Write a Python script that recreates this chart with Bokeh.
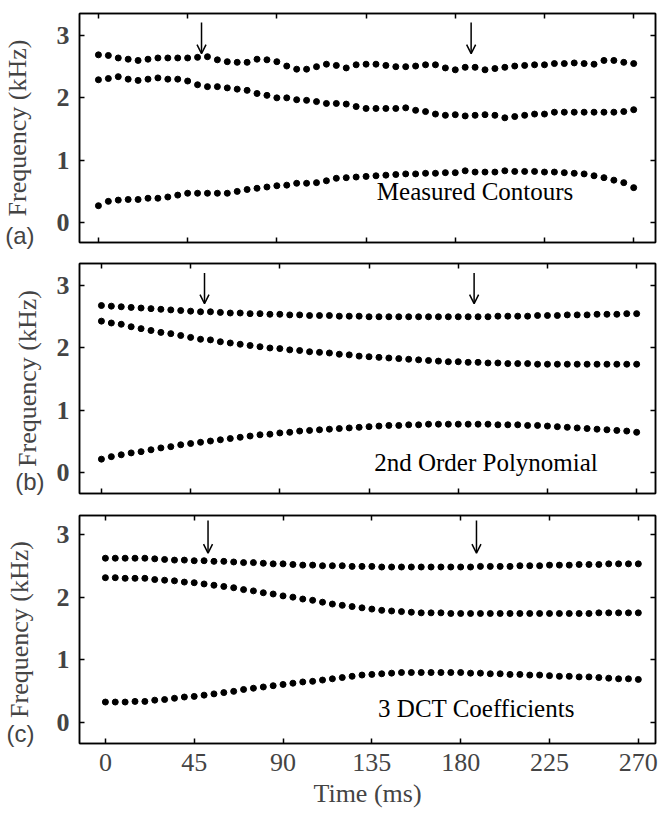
from bokeh.plotting import figure
from bokeh.layouts import column
from bokeh.models import (ColumnDataSource, LinearAxis, FixedTicker, Range1d,
                          Label, Arrow, OpenHead)
from bokeh.embed import file_html
from bokeh.resources import INLINE

# ---------------- data ----------------
time_ms = list(range(0, 271, 5))
x_ticks = [0, 45, 90, 135, 180, 225, 270]
y_ticks = [0, 1, 2, 3]

# (a) Measured contours
a_f3 = [2.69, 2.68, 2.64, 2.62, 2.60, 2.62, 2.64, 2.64, 2.64, 2.64, 2.65, 2.66, 2.61, 2.58, 2.57, 2.57, 2.62,
        2.61, 2.58, 2.51, 2.46, 2.46, 2.50, 2.54, 2.52, 2.48, 2.53, 2.54, 2.54, 2.52, 2.50, 2.50, 2.51, 2.53,
        2.53, 2.48, 2.45, 2.49, 2.49, 2.45, 2.47, 2.49, 2.51, 2.52, 2.53, 2.53, 2.55, 2.55, 2.56, 2.55, 2.54,
        2.60, 2.60, 2.57, 2.55]
a_f2 = [2.29, 2.31, 2.34, 2.30, 2.28, 2.30, 2.32, 2.30, 2.30, 2.27, 2.21, 2.18, 2.18, 2.16, 2.14, 2.12, 2.07,
        2.04, 2.00, 2.00, 1.97, 1.96, 1.94, 1.91, 1.91, 1.90, 1.86, 1.83, 1.83, 1.83, 1.83, 1.84, 1.80, 1.78,
        1.74, 1.72, 1.73, 1.71, 1.72, 1.73, 1.72, 1.68, 1.70, 1.72, 1.74, 1.74, 1.77, 1.77, 1.77, 1.77, 1.77,
        1.77, 1.77, 1.78, 1.81]
a_f1 = [0.27, 0.34, 0.36, 0.37, 0.37, 0.39, 0.39, 0.41, 0.44, 0.47, 0.47, 0.47, 0.47, 0.47, 0.50, 0.53, 0.55,
        0.57, 0.59, 0.60, 0.63, 0.63, 0.64, 0.67, 0.71, 0.72, 0.73, 0.74, 0.75, 0.76, 0.77, 0.78, 0.78, 0.79,
        0.79, 0.80, 0.80, 0.83, 0.81, 0.81, 0.81, 0.83, 0.82, 0.82, 0.82, 0.81, 0.81, 0.80, 0.79, 0.78, 0.75,
        0.72, 0.68, 0.64, 0.56]

# (b) 2nd order polynomial
b_f3 = [2.68, 2.67, 2.66, 2.65, 2.64, 2.63, 2.62, 2.61, 2.60, 2.59, 2.58, 2.58, 2.57, 2.56, 2.56,
        2.55, 2.55, 2.54, 2.54, 2.53, 2.53, 2.52, 2.52, 2.52, 2.51, 2.51, 2.51, 2.50, 2.50, 2.50,
        2.50, 2.50, 2.50, 2.50, 2.50, 2.50, 2.50, 2.50, 2.50, 2.50, 2.51, 2.51, 2.51, 2.51, 2.52,
        2.52, 2.52, 2.53, 2.53, 2.53, 2.54, 2.54, 2.54, 2.55, 2.55]
b_f2 = [2.43, 2.40, 2.38, 2.34, 2.31, 2.28, 2.25, 2.23, 2.20, 2.17, 2.14, 2.13, 2.10, 2.08, 2.06,
        2.04, 2.02, 2.00, 1.99, 1.97, 1.96, 1.94, 1.93, 1.92, 1.90, 1.89, 1.87, 1.86, 1.85, 1.84,
        1.83, 1.82, 1.81, 1.80, 1.79, 1.78, 1.78, 1.77, 1.77, 1.76, 1.76, 1.75, 1.75, 1.75, 1.74,
        1.74, 1.74, 1.74, 1.74, 1.74, 1.74, 1.74, 1.74, 1.74, 1.74]
b_f1 = [0.22, 0.26, 0.29, 0.32, 0.34, 0.37, 0.40, 0.42, 0.45, 0.47, 0.49, 0.51, 0.53, 0.55, 0.57,
        0.59, 0.61, 0.62, 0.64, 0.65, 0.67, 0.68, 0.69, 0.70, 0.71, 0.72, 0.73, 0.74, 0.75, 0.76,
        0.76, 0.77, 0.77, 0.78, 0.78, 0.78, 0.78, 0.78, 0.78, 0.78, 0.77, 0.77, 0.77, 0.76, 0.76,
        0.75, 0.74, 0.73, 0.72, 0.71, 0.70, 0.69, 0.68, 0.67, 0.65]

# (c) 3 DCT coefficients
c_f3 = [2.62, 2.62, 2.62, 2.62, 2.62, 2.61, 2.60, 2.59, 2.59, 2.58, 2.58, 2.57, 2.57, 2.56, 2.55,
        2.55, 2.54, 2.53, 2.53, 2.52, 2.51, 2.51, 2.50, 2.50, 2.50, 2.49, 2.49, 2.49, 2.48, 2.48,
        2.48, 2.48, 2.48, 2.48, 2.48, 2.48, 2.48, 2.48, 2.49, 2.49, 2.49, 2.49, 2.50, 2.50, 2.50,
        2.51, 2.51, 2.51, 2.52, 2.52, 2.52, 2.53, 2.53, 2.53, 2.53]
c_f2 = [2.31, 2.31, 2.30, 2.30, 2.30, 2.28, 2.27, 2.26, 2.24, 2.23, 2.21, 2.19, 2.17, 2.15, 2.12,
        2.10, 2.07, 2.05, 2.02, 2.00, 1.97, 1.95, 1.92, 1.89, 1.87, 1.85, 1.83, 1.81, 1.79, 1.78,
        1.77, 1.76, 1.75, 1.75, 1.75, 1.74, 1.74, 1.74, 1.74, 1.74, 1.74, 1.74, 1.74, 1.74, 1.74,
        1.74, 1.74, 1.74, 1.74, 1.74, 1.75, 1.75, 1.75, 1.75, 1.75]
c_f1 = [0.33, 0.33, 0.33, 0.34, 0.34, 0.36, 0.37, 0.39, 0.41, 0.42, 0.44, 0.46, 0.48, 0.50, 0.53,
        0.55, 0.57, 0.59, 0.61, 0.63, 0.65, 0.66, 0.68, 0.70, 0.72, 0.74, 0.76, 0.77, 0.78, 0.79,
        0.80, 0.80, 0.80, 0.80, 0.80, 0.80, 0.80, 0.79, 0.79, 0.78, 0.78, 0.77, 0.77, 0.76, 0.76,
        0.75, 0.74, 0.74, 0.73, 0.73, 0.72, 0.71, 0.70, 0.70, 0.69]

captions = ["Measured Contours", "2nd Order Polynomial", "3 DCT Coefficients"]
caption_x = [190, 194, 188]
caption_y = [0.49, 0.17, 0.23]
tags = ["(a)", "(b)", "(c)"]
tag_y = [-0.20, -0.14, -0.17]
arrow_times = [52, 188]
arrow_top = [3.21, 3.20, 3.22]
arrow_bottom = [2.71, 2.71, 2.70]

for s in (a_f1, a_f2, a_f3, b_f1, b_f2, b_f3, c_f1, c_f2, c_f3):
    assert len(s) == len(time_ms), len(s)

# ---------------- layout (per panel, follows the scanned figure) ----------------
layout_cfg = [
    dict(h=250, bt=13, bb=8, x0=-9.55, x1=281.0, y0=-0.32, y1=3.353, tag_sd=19),
    dict(h=253, bt=13, bb=10, x0=-11.06, x1=279.5, y0=-0.33, y1=3.353, tag_sd=9),
    dict(h=309, bt=12, bb=69, x0=-13.12, x1=278.7, y0=-0.33, y1=3.30, tag_sd=19),
]
BORDER_LEFT = 77
BORDER_RIGHT = 3

SERIF = "Liberation Serif"
SANS = "Liberation Sans"
FS = "26px"


def style_axis(ax, labels):
    ax.axis_line_color = "black"
    ax.axis_line_width = 1.5
    ax.major_tick_in = 5
    ax.major_tick_out = 0
    ax.major_tick_line_width = 1.5
    ax.minor_tick_line_color = None
    if not labels:
        ax.major_label_text_color = None
        ax.major_label_text_font_size = "1px"
        ax.major_label_standoff = 0
        ax.axis_label = None


def make_panel(i, f1, f2, f3, show_x):
    cfg = layout_cfg[i]
    p = figure(width=658, height=cfg["h"],
               x_range=Range1d(cfg["x0"], cfg["x1"]),
               y_range=Range1d(cfg["y0"], cfg["y1"]),
               output_backend="svg", toolbar_location=None,
               min_border_left=BORDER_LEFT, min_border_right=BORDER_RIGHT,
               min_border_top=cfg["bt"], min_border_bottom=cfg["bb"])
    p.grid.visible = False
    p.outline_line_color = "black"
    p.outline_line_width = 1.5
    p.background_fill_color = "white"
    p.border_fill_color = "white"

    # left axis: numbers only
    ly = p.yaxis[0]
    ly.ticker = FixedTicker(ticks=y_ticks)
    style_axis(ly, True)
    ly.major_label_text_font = SERIF
    ly.major_label_text_font_size = FS
    ly.major_label_text_font_style = "bold"
    ly.major_label_standoff = 10

    # outer left axis: panel tag as its only label, plus the axis title in the same column
    tag_axis = LinearAxis(ticker=FixedTicker(ticks=[tag_y[i]]),
                          major_label_overrides={tag_y[i]: tags[i]})
    tag_axis.axis_line_color = None
    tag_axis.major_tick_line_color = None
    tag_axis.minor_tick_line_color = None
    tag_axis.major_tick_in = 0
    tag_axis.major_tick_out = 0
    tag_axis.major_label_text_font = SANS
    tag_axis.major_label_text_font_size = "24px"
    tag_axis.major_label_standoff = cfg["tag_sd"]
    tag_axis.axis_label = "Frequency (kHz)"
    tag_axis.axis_label_text_font = SERIF
    tag_axis.axis_label_text_font_size = FS
    tag_axis.axis_label_text_font_style = "normal"
    tag_axis.axis_label_standoff = -30
    p.add_layout(tag_axis, "left")

    # bottom axis
    bx = p.xaxis[0]
    bx.ticker = FixedTicker(ticks=x_ticks)
    style_axis(bx, show_x)
    if show_x:
        bx.major_label_text_font = SERIF
        bx.major_label_text_font_size = FS
        bx.major_label_standoff = 10
        bx.axis_label = "Time (ms)"
        bx.axis_label_text_font = SERIF
        bx.axis_label_text_font_size = FS
        bx.axis_label_text_font_style = "normal"
        bx.axis_label_standoff = 5

    # top and right axes: inward ticks only
    tx = LinearAxis(ticker=FixedTicker(ticks=x_ticks))
    style_axis(tx, False)
    p.add_layout(tx, "above")
    ry = LinearAxis(ticker=FixedTicker(ticks=y_ticks))
    style_axis(ry, False)
    p.add_layout(ry, "right")

    src = ColumnDataSource(dict(t=time_ms, f1=f1, f2=f2, f3=f3))
    for col in ("f1", "f2", "f3"):
        p.scatter("t", col, source=src, size=6, marker="circle",
                  fill_color="black", line_color="black")

    for t in arrow_times:
        p.add_layout(Arrow(x_start=t, y_start=arrow_top[i], x_end=t, y_end=arrow_bottom[i],
                           line_width=1.5, line_color="black",
                           end=OpenHead(size=9, line_width=1.5, line_color="black")))

    p.add_layout(Label(x=caption_x[i], y=caption_y[i], text=captions[i],
                       text_font=SERIF, text_font_size="25px", text_align="center",
                       text_baseline="middle", text_color="black"))
    return p


pa = make_panel(0, a_f1, a_f2, a_f3, False)
pb = make_panel(1, b_f1, b_f2, b_f3, False)
pc = make_panel(2, c_f1, c_f2, c_f3, True)

layout = column(pa, pb, pc, spacing=0)
open("out.html", "w").write(file_html(layout, INLINE))
